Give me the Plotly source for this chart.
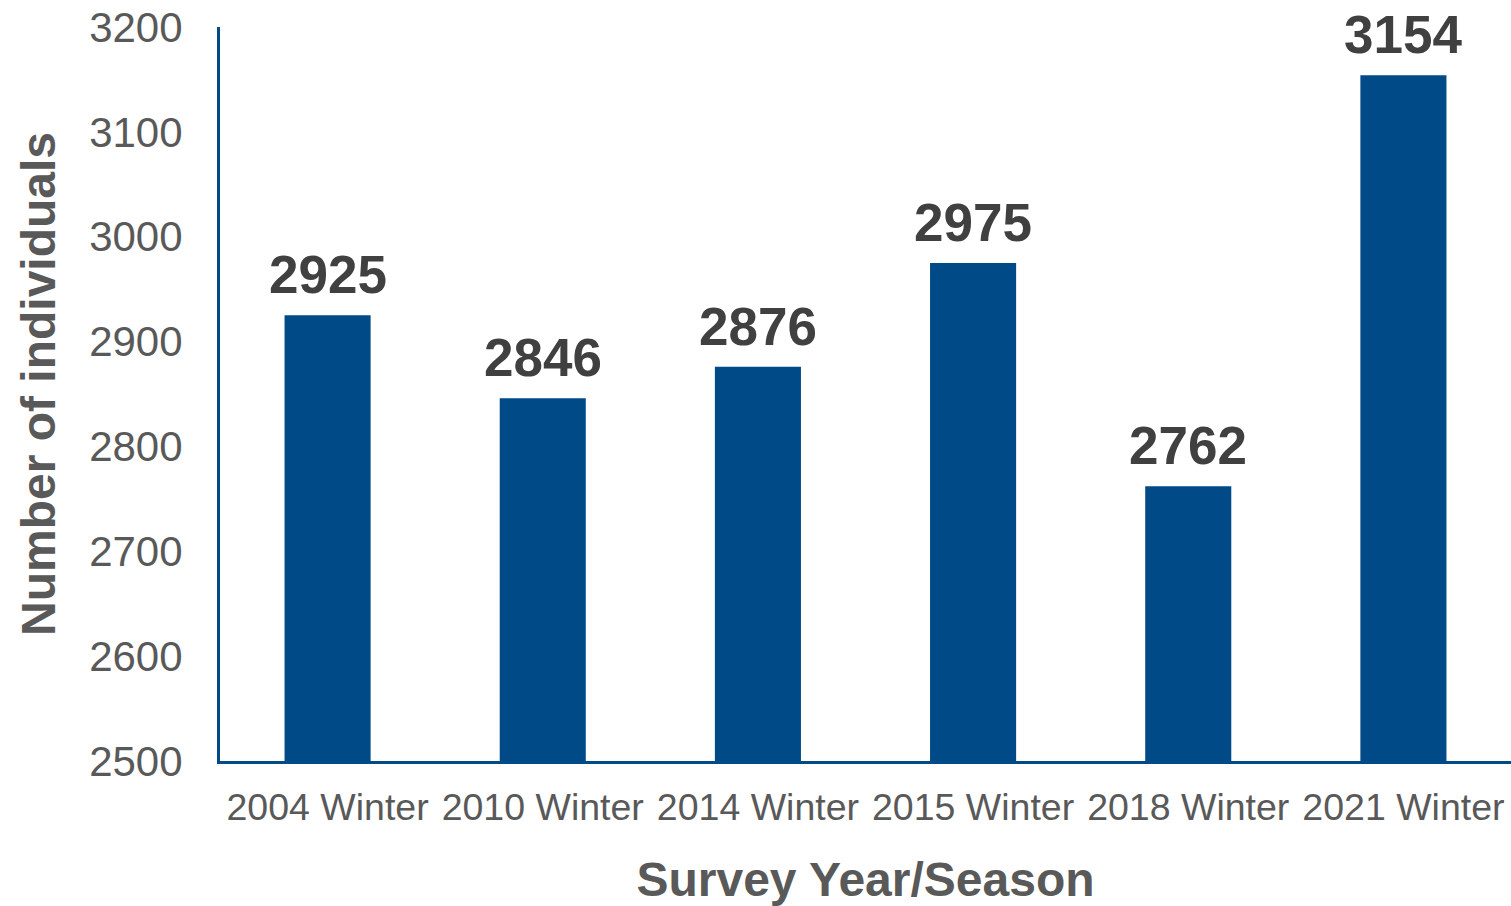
import plotly.graph_objects as go

categories = ["2004 Winter", "2010 Winter", "2014 Winter", "2015 Winter", "2018 Winter", "2021 Winter"]
values = [2925, 2846, 2876, 2975, 2762, 3154]
y_ticks = [2500, 2600, 2700, 2800, 2900, 3000, 3100, 3200]

BAR = "#004A87"
FONT = "Liberation Sans, Arial, sans-serif"

fig = go.Figure()
fig.add_trace(go.Bar(x=categories, y=values, marker=dict(color=BAR, line=dict(width=0)),
                     width=0.4, hoverinfo="x+y"))

for c, v in zip(categories, values):
    fig.add_annotation(x=c, y=v, text=f"<b>{v}</b>", showarrow=False, yanchor="bottom",
                       yshift=9, font=dict(family=FONT, size=53, color="#404040"))

# y-axis title placed as annotation (slightly above plot centre as in the reference)
fig.add_annotation(text="<b>Number of individuals</b>", textangle=-90, showarrow=False,
                   xref="paper", yref="paper", x=0, y=0.5, xanchor="center", yanchor="middle",
                   xshift=-182, yshift=10, font=dict(family=FONT, size=48, color="#595959"))

fig.update_layout(
    width=1511, height=906,
    margin=dict(l=220, r=0, t=27, b=145, autoexpand=False),
    paper_bgcolor="white", plot_bgcolor="rgba(0,0,0,0)",
    showlegend=False, bargap=0.6,
    font=dict(family=FONT, color="#595959"),
)
fig.update_xaxes(
    showline=True, linecolor=BAR, linewidth=3, showgrid=False, ticks="",
    tickfont=dict(size=37.5, color="#595959"), ticklabelstandoff=11,
    title=dict(text="<b>Survey Year/Season</b>", font=dict(size=48, color="#595959"), standoff=40),
    automargin=False,
)
fig.update_yaxes(
    range=[2500, 3200], tickvals=y_ticks, showline=True, linecolor=BAR, linewidth=3,
    showgrid=False, zeroline=False, ticks="", ticklabeloverflow="allow",
    tickfont=dict(size=42, color="#595959"), ticklabelstandoff=26,
    automargin=False,
)

fig.write_html("out.html", config={"displayModeBar": False},
               post_script="document.body.style.margin='0';document.body.style.overflow='hidden';")
